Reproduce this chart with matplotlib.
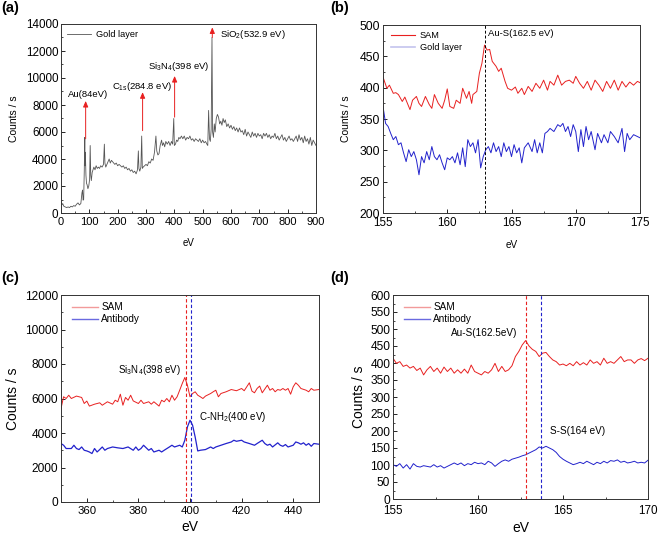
import matplotlib
matplotlib.use("Agg")
import matplotlib.pyplot as plt
from matplotlib.ticker import MultipleLocator
from matplotlib.lines import Line2D

plt.rcParams['font.family'] = ['Liberation Sans', 'DejaVu Sans']
plt.rcParams['mathtext.fontset'] = 'custom'
plt.rcParams['mathtext.rm'] = 'Liberation Sans'
plt.rcParams['mathtext.it'] = 'Liberation Sans:italic'
plt.rcParams['axes.linewidth'] = 0.7

RED = '#e82020'
BLUE = '#2222cc'
GREY = '#555555'

# ---------------- (a) survey spectrum, gold layer ----------------
a_ev = [0, 3, 6, 10, 15, 20, 25, 30, 35, 40, 45, 50, 55, 60, 65, 70, 74, 76, 78, 80,
        82, 84, 85, 86, 88, 90, 92, 95, 98, 101, 103, 105, 107, 110, 113, 116, 120, 124,
        128, 132, 136, 140, 145, 150, 153, 155, 158, 162, 166, 170, 174, 178, 182, 186,
        190, 195, 200, 205, 210, 215, 220, 225, 230, 235, 240, 245, 250, 255, 260, 265,
        270, 273, 275, 278, 282, 284.8, 287, 290, 295, 300, 305, 310, 315, 320, 325, 330,
        335, 338, 342, 346, 350, 355, 358, 362, 366, 370, 375, 380, 385, 390, 394, 398,
        400, 404, 408, 412, 416, 420, 425, 430, 435, 440, 445, 450, 455, 460, 465, 470,
        475, 480, 485, 490, 495, 500, 505, 510, 515, 518, 521, 524, 527, 530, 532.9, 535,
        538, 541, 544, 548, 552, 556, 560, 564, 568, 572, 576, 580, 585, 590, 595, 600,
        605, 610, 615, 620, 625, 630, 635, 640, 645, 650, 655, 660, 665, 670, 675, 680,
        685, 690, 695, 700, 705, 710, 715, 720, 725, 730, 735, 740, 745, 750, 755, 760,
        765, 770, 775, 780, 785, 790, 795, 800, 805, 810, 815, 820, 825, 830, 835, 840,
        845, 850, 855, 860, 865, 870, 875, 880, 885, 890, 895, 900]
a_counts = [800, 600, 700, 500, 450, 400, 450, 400, 500, 450, 550, 500, 650, 750, 600, 700, 1500, 1700, 950, 1000,
            3000, 5600, 3500, 4500, 2800, 2200, 2100, 1800, 2000, 2500, 5000, 2800, 2400, 3000, 3200, 3400, 3200, 3500,
            3300, 3400, 3300, 3500, 3400, 3600, 5100, 3700, 3400, 3600, 3800, 4000, 3700, 3900, 3800, 3700,
            3600, 3700, 3500, 3600, 3500, 3400, 3500, 3300, 3400, 3200, 3300, 3100, 3200, 3000, 3100, 2900,
            3200, 4600, 3300, 3100, 3400, 5700, 3300, 3400, 3500, 3600, 3500, 3800, 3700, 4000, 3900, 4500,
            5700, 4600, 4300, 4400, 5000, 5400, 5000, 5200, 4900, 5300, 5100, 5300, 5000, 5300, 5100, 7000,
            5000, 5100, 5400, 5300, 5600, 5500, 5700, 5500, 5700, 5400, 5600, 5500, 5700, 5400, 5500, 5300,
            5500, 5400, 5300, 5500, 5200, 5400, 5200, 5300, 5100, 5000, 7600, 5500, 5300, 6200, 13000, 6000,
            5600, 6600, 6000, 7000, 7300, 7100, 6600, 6800, 6500, 7000, 6700, 6900, 6400, 6600, 6300, 6500,
            6200, 6400, 6100, 6300, 6000, 6300, 6000, 6100, 5800, 6200, 5700, 6000, 5800, 5600, 6000, 5700,
            5900, 5600, 5900, 5700, 5800, 5500, 5900, 5700, 5900, 5600, 5800, 5500, 5700, 5600, 5900, 5500,
            5700, 5400, 5600, 5800, 5400, 5600, 5300, 5500, 5700, 5400, 5500, 5300, 5500, 5700, 5300, 5800,
            5400, 5600, 5200, 5700, 5300, 5500, 5100, 5600, 5000, 5400, 5200, 5000]
a_arrow_x = [87, 288, 401, 534]
a_arrow_y0 = [5500, 6100, 7100, 13000]
a_arrow_y1 = [8300, 8950, 10150, 13750]
a_labels = ['Au(84eV)', r'C$_{\mathrm{1s}}$(284.8 eV)', r'Si$_3$N$_4$(398 eV)', r'SiO$_2$(532.9 eV)']
a_label_x = [26, 179, 308, 561]
a_label_y = [8750, 9400, 10850, 13250]

# ---------------- (b) S 2p, SAM vs gold layer ----------------
b_ev_sam = [155, 155.3, 155.5, 155.8, 156, 156.2, 156.5, 156.7, 156.9, 157.1, 157.3, 157.6, 157.8, 158,
            158.3, 158.6, 158.8, 159, 159.3, 159.6, 159.8, 160, 160.2, 160.5, 160.7, 161, 161.2, 161.5,
            161.7, 161.9, 162, 162.3, 162.5, 162.7, 162.9, 163.1, 163.3, 163.5, 163.8, 164, 164.2, 164.5,
            164.7, 165, 165.3, 165.5, 165.8, 166, 166.3, 166.6, 166.9, 167.2, 167.5, 167.8, 168, 168.3,
            168.6, 168.9, 169.2, 169.5, 169.8, 170, 170.3, 170.6, 170.9, 171.2, 171.5, 171.8, 172.1, 172.4,
            172.7, 173, 173.3, 173.6, 173.9, 174.2, 174.5, 174.8, 175]
b_sam = [417, 399, 404, 391, 392, 389, 378, 385, 375, 365, 380, 386, 375, 370,
         386, 373, 367, 389, 375, 367, 380, 398, 370, 367, 380, 375, 399, 383,
         394, 375, 389, 394, 423, 439, 468, 460, 461, 442, 434, 426, 431, 410,
         399, 396, 401, 391, 399, 389, 402, 394, 407, 399, 412, 396, 410, 404,
         420, 404, 410, 412, 407, 418, 407, 399, 410, 396, 412, 404, 394, 410,
         399, 412, 396, 410, 401, 409, 404, 410, 408]
b_ev_gold = [155, 155.2, 155.4, 155.6, 155.8, 156, 156.2, 156.4, 156.6, 156.8, 157, 157.2, 157.4, 157.6,
             157.8, 158, 158.2, 158.4, 158.6, 158.8, 159, 159.2, 159.4, 159.6, 159.8, 160, 160.2, 160.4,
             160.6, 160.8, 161, 161.2, 161.4, 161.6, 161.8, 162, 162.2, 162.4, 162.6, 162.8, 163, 163.2,
             163.4, 163.6, 163.8, 164, 164.2, 164.4, 164.6, 164.8, 165, 165.2, 165.4, 165.6, 165.8, 166,
             166.3, 166.6, 166.8, 167, 167.2, 167.4, 167.6, 167.8, 168, 168.3, 168.6, 168.8, 169, 169.2,
             169.4, 169.6, 169.8, 170, 170.2, 170.4, 170.6, 170.8, 171, 171.2, 171.5, 171.7, 172, 172.2,
             172.5, 172.7, 173, 173.3, 173.6, 173.8, 174, 174.2, 174.5, 174.8, 175]
b_gold = [370, 343, 338, 327, 317, 322, 309, 312, 296, 282, 301, 290, 298, 285,
          261, 290, 280, 298, 285, 306, 290, 285, 293, 280, 269, 288, 285, 290,
          280, 296, 277, 304, 274, 317, 306, 312, 296, 317, 272, 290, 301, 306,
          296, 312, 298, 306, 290, 312, 298, 306, 290, 309, 296, 304, 280, 304,
          312, 298, 317, 296, 312, 296, 327, 330, 335, 330, 341, 338, 343, 330,
          338, 322, 341, 330, 298, 333, 306, 338, 317, 330, 301, 327, 312, 325,
          312, 330, 322, 312, 335, 298, 327, 317, 325, 322, 320]
b_peak_ev = 162.9
b_peak_label = 'Au-S(162.5 eV)'

# ---------------- (c) N 1s, SAM vs antibody ----------------
c_ev_sam = [350, 351, 352, 353, 354, 356, 358, 359, 360, 361, 363, 365, 366, 368, 370, 371, 372, 373,
            374, 375, 376, 377, 378, 380, 381, 382, 384, 385, 386, 388, 389, 390, 391, 392, 393, 394,
            395, 396, 397, 398, 399, 400, 401, 402, 403, 404, 405, 406, 408, 409, 410, 411, 412, 414,
            416, 418, 420, 421, 423, 424, 425, 426, 427, 428, 430, 431, 432, 433, 434, 435, 436, 437,
            438, 439, 440, 441, 442, 443, 445, 446, 447, 448, 450]
c_sam = [5420, 6100, 6000, 6190, 6000, 6140, 6060, 5710, 5850, 5560, 5670, 5750, 5610, 5810, 5670, 5900, 5810, 6250,
         5610, 6060, 5900, 6190, 5860, 5710, 5900, 5710, 5810, 5670, 5810, 5560, 5900, 5810, 6000, 5810, 6190, 5900,
         6100, 6480, 6870, 7220, 6770, 6100, 6290, 6390, 6190, 6100, 6000, 6140, 6290, 6390, 6480, 6100, 6290, 6390,
         6520, 6450, 6580, 6450, 6910, 6430, 6330, 6580, 6720, 6330, 6770, 6480, 6580, 6390, 6520, 6480, 6580, 6480,
         6580, 6250, 6680, 6910, 6770, 6580, 6480, 6390, 6580, 6480, 6520]
c_ev_ab = [350, 351, 352, 354, 355, 356, 357, 358, 359, 360, 361, 362, 363, 364, 365, 366, 367, 368,
           370, 372, 374, 376, 378, 379, 380, 381, 382, 384, 385, 386, 388, 389, 390, 392, 393, 394,
           396, 397, 398, 399, 400, 401, 402, 403, 404, 406, 408, 409, 410, 412, 414, 416, 417, 418,
           420, 421, 423, 425, 426, 428, 429, 430, 431, 432, 434, 435, 436, 437, 438, 440, 441, 442,
           443, 444, 445, 446, 447, 448, 450]
c_ab = [3390, 3290, 3100, 3100, 3290, 3100, 3040, 3190, 3000, 2960, 2900, 2810, 3100, 2900, 3040, 3190, 3000, 3100,
        3190, 3140, 3100, 3190, 3000, 3190, 3000, 3100, 3290, 3000, 3100, 2900, 3000, 2900, 3000, 3190, 3290, 3190,
        3290, 3190, 3580, 4350, 4740, 4450, 3770, 2960, 3000, 3040, 3190, 3100, 3190, 3290, 3390, 3480, 3580, 3520,
        3580, 3480, 3390, 3290, 3390, 3580, 3390, 3290, 3350, 3190, 3430, 3290, 3230, 3330, 3190, 3290, 3480, 3430,
        3350, 3430, 3290, 3390, 3230, 3390, 3350]
c_peak_ev = [398.3, 400.5]
c_peak_labels = [r'Si$_3$N$_4$(398 eV)', r'C-NH$_2$(400 eV)']

# ---------------- (d) S 2p, SAM vs antibody ----------------
d_ev = [155, 155.2, 155.4, 155.6, 155.8, 156, 156.2, 156.4, 156.6, 156.8, 157, 157.2, 157.4, 157.6, 157.8,
        158, 158.2, 158.4, 158.6, 158.8, 159, 159.2, 159.4, 159.6, 159.8, 160, 160.2, 160.4, 160.6, 160.8,
        161, 161.2, 161.4, 161.6, 161.8, 162, 162.2, 162.4, 162.6, 162.8, 163, 163.2, 163.4, 163.6, 163.8,
        164, 164.2, 164.4, 164.6, 164.8, 165, 165.2, 165.4, 165.6, 165.8, 166, 166.2, 166.4, 166.6, 166.8,
        167, 167.2, 167.4, 167.6, 167.8, 168, 168.2, 168.4, 168.6, 168.8, 169, 169.2, 169.4, 169.6, 169.8, 170]
d_sam = [414, 399, 404, 390, 394, 385, 390, 378, 385, 365, 380, 390, 375, 385, 370,
         388, 375, 385, 370, 380, 370, 382, 370, 394, 375, 370, 365, 375, 370, 380,
         399, 375, 390, 375, 380, 392, 419, 434, 453, 466, 450, 440, 434, 419, 429,
         431, 419, 409, 404, 394, 397, 392, 399, 392, 404, 394, 401, 394, 409, 399,
         404, 394, 414, 399, 404, 399, 409, 419, 404, 409, 409, 399, 409, 413, 407, 414]
d_ab = [101, 96, 104, 91, 101, 88, 104, 96, 94, 98, 96, 94, 101, 94, 98,
        91, 96, 101, 106, 101, 106, 98, 104, 101, 108, 104, 106, 101, 111, 106,
        96, 104, 111, 115, 111, 117, 120, 123, 127, 130, 135, 140, 145, 153, 150,
        155, 150, 145, 137, 125, 117, 111, 106, 101, 104, 108, 104, 111, 106, 101,
        108, 104, 111, 106, 113, 111, 115, 108, 111, 106, 108, 111, 106, 108, 106, 114]
d_peak_ev = [162.85, 163.7]
d_peak_labels = ['Au-S(162.5eV)', 'S-S(164 eV)']

W, H = 658, 537
fig = plt.figure(figsize=(W / 100, H / 100), dpi=100)


def add_ax(l, r, t, b):
    return fig.add_axes([l / W, 1 - b / H, (r - l) / W, (b - t) / H])


def style(ax, xmaj, xmin, ymaj, ymin, fx, fy, xpad=3):
    ax.xaxis.set_major_locator(MultipleLocator(xmaj))
    ax.xaxis.set_minor_locator(MultipleLocator(xmin))
    ax.yaxis.set_major_locator(MultipleLocator(ymaj))
    ax.yaxis.set_minor_locator(MultipleLocator(ymin))
    ax.tick_params(which='major', direction='in', length=3, width=0.6, pad=2)
    ax.tick_params(axis='x', which='major', labelsize=fx, pad=xpad)
    ax.tick_params(axis='y', which='major', labelsize=fy)
    ax.tick_params(which='minor', direction='in', length=1.6, width=0.5)
    for s in ax.spines.values():
        s.set_color('#333333')


# (a)
axa = add_ax(61, 316, 24, 213)
axa.plot(a_ev, a_counts, color=GREY, lw=0.6, label='Gold layer')
axa.set_xlim(0, 900)
axa.set_ylim(0, 14000)
style(axa, 100, 50, 2000, 1000, 8, 8.4)
for x, y0, y1 in zip(a_arrow_x, a_arrow_y0, a_arrow_y1):
    axa.annotate('', xy=(x, y1), xytext=(x, y0),
                 arrowprops=dict(arrowstyle='-|>,head_length=0.35,head_width=0.15', color=RED, lw=0.7,
                                 shrinkA=0, shrinkB=0))
for t, x, y in zip(a_labels, a_label_x, a_label_y):
    axa.text(x, y, t, fontsize=6.8, va='center', ha='left')
axa.legend(loc='upper left', frameon=False, fontsize=6.6, handlelength=2.6, borderaxespad=0.3,
           handletextpad=0.5, bbox_to_anchor=(0.0, 1.0))
axa.set_xlabel('eV', fontsize=7, labelpad=8)
axa.set_ylabel('Counts / s', fontsize=7.5, labelpad=5)

# (b)
axb = add_ax(383, 640, 25, 213)
axb.plot(b_ev_sam, b_sam, color=RED, lw=0.7)
axb.plot(b_ev_gold, b_gold, color=BLUE, lw=0.7)
axb.axvline(b_peak_ev, color='black', lw=0.7, ls=(0, (3, 2)))
axb.text(b_peak_ev + 0.25, 487, b_peak_label, fontsize=6.8, va='center', ha='left')
axb.set_xlim(155, 175)
axb.set_ylim(200, 500)
style(axb, 5, 2.5, 50, 25, 8.4, 8.8)
hb = [Line2D([], [], color=RED, lw=0.8), Line2D([], [], color='#c4c4ee', lw=1.2)]
axb.legend(hb, ['SAM', 'Gold layer'], loc='upper left', frameon=False, fontsize=6.6, handlelength=2.6,
           borderaxespad=0.3, handletextpad=0.6, labelspacing=0.3, bbox_to_anchor=(0.005, 1.0))
axb.set_xlabel('eV', fontsize=7.2, labelpad=8)
axb.set_ylabel('Counts / s', fontsize=7.5, labelpad=6)

# (c)
axc = add_ax(61, 319, 295, 502)
axc.plot(c_ev_sam, c_sam, color=RED, lw=0.7)
axc.plot(c_ev_ab, c_ab, color=BLUE, lw=0.9)
axc.axvline(c_peak_ev[0], color=RED, lw=0.8, ls=(0, (3, 2)))
axc.axvline(c_peak_ev[1], color=BLUE, lw=0.8, ls=(0, (3, 2)))
axc.text(396.5, 7650, c_peak_labels[0], fontsize=7, va='center', ha='right')
axc.text(403.5, 4950, c_peak_labels[1], fontsize=7, va='center', ha='left')
axc.set_xlim(350, 450)
axc.set_ylim(0, 12000)
style(axc, 20, 10, 2000, 1000, 8.2, 8.6)
hc = [Line2D([], [], color='#f29a9a', lw=1.0), Line2D([], [], color='#6a6ae0', lw=1.0)]
axc.legend(hc, ['SAM', 'Antibody'], loc='upper left', frameon=False, fontsize=7.2, handlelength=2.6,
           borderaxespad=0.35, handletextpad=0.3, labelspacing=0.2, bbox_to_anchor=(0.015, 1.0))
axc.set_xlabel('eV', fontsize=10, labelpad=3)
axc.set_ylabel('Counts / s', fontsize=10, labelpad=4)

# (d)
axd = add_ax(393, 648, 295, 499)
axd.plot(d_ev, d_sam, color=RED, lw=0.7)
axd.plot(d_ev, d_ab, color=BLUE, lw=0.7)
axd.axvline(d_peak_ev[0], color=RED, lw=0.8, ls=(0, (3, 2)))
axd.axvline(d_peak_ev[1], color=BLUE, lw=0.8, ls=(0, (3, 2)))
axd.text(158.4, 487, d_peak_labels[0], fontsize=7.2, va='center', ha='left')
axd.text(164.25, 200, d_peak_labels[1], fontsize=7.2, va='center', ha='left')
axd.set_xlim(155, 170)
axd.set_ylim(0, 600)
style(axd, 5, 2.5, 50, 25, 8.4, 8.6, xpad=4.5)
axd.legend(hc, ['SAM', 'Antibody'], loc='upper left', frameon=False, fontsize=7.2, handlelength=2.6,
           borderaxespad=0.35, handletextpad=0.3, labelspacing=0.2, bbox_to_anchor=(0.015, 1.0))
axd.set_xlabel('eV', fontsize=10, labelpad=2.5)
axd.set_ylabel('Counts / s', fontsize=10, labelpad=3)

# panel letters
for t, x, y in [('(a)', 1, 1), ('(b)', 330, 1), ('(c)', 1, 271), ('(d)', 330, 271)]:
    fig.text(x / W, 1 - y / H, t, fontsize=10.5, fontweight='bold', va='top', ha='left')

fig.savefig('out.png', dpi=100)
